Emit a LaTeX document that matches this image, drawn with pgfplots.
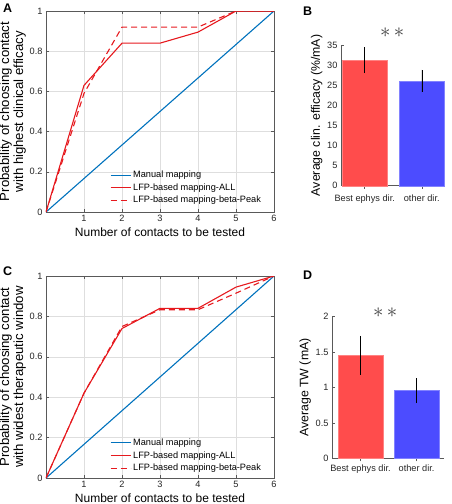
\documentclass[border=0pt]{standalone}
\usepackage{pgfplots}
\pgfplotsset{compat=1.18}
\usepackage{fontspec}
\setmainfont{Liberation Sans}
\definecolor{mblue}{rgb}{0,0.447,0.741}
\definecolor{mred}{RGB}{230,25,30}
\definecolor{bred}{RGB}{255,76,76}
\definecolor{bblue}{RGB}{76,76,255}
\definecolor{frm}{gray}{0.35}
\pgfplotsset{
  common/.style={
    scale only axis,
    /pgf/number format/assume math mode=true,
    axis line style={frm, line width=0.5pt},
    tick style={frm, line width=0.5pt},
    tick align=inside,
    major tick length=3pt,
    ticklabel style={font=\fontsize{9.2}{10}\selectfont, text=black!85},
  },
  lineax/.style={
    common,
    width=228pt,
    xmin=0, xmax=6, ymin=0, ymax=1,
    xtick={1,2,3,4,5,6},
    ytick={0,0.2,0.4,0.6,0.8,1},
    grid=major,
    grid style={black!13, line width=0.4pt},
    xlabel style={font=\fontsize{12}{13}\selectfont, yshift=1pt},
    ylabel style={font=\fontsize{13.2}{14}\selectfont, align=center, yshift=-3pt},
    legend style={draw=none, fill=none, anchor=north west, inner sep=0pt,
      font=\fontsize{9.2}{11}\selectfont, row sep=0.5pt},
    legend cell align=left,
  },
  barax/.style={
    common,
    axis lines*=left,
    ybar,
    bar width=0.8,
    xtick={1,2},
    xticklabels={Best ephys dir., other dir.},
    xticklabel style={font=\fontsize{9.2}{10}\selectfont},
    ylabel style={font=\fontsize{12.3}{13}\selectfont, yshift=-2pt},
    clip=false,
  },
}
\begin{document}
\begin{tikzpicture}
\useasboundingbox (0,0) rectangle (451pt,-504pt);
% Panel A
\begin{axis}[lineax, height=201pt, at={(46pt,-212pt)}, anchor=south west,
  xlabel={Number of contacts to be tested},
  ylabel={Probability of choosing contact\\with highest clinical efficacy},
  legend style={at={(0.28,0.215)}},
  legend image code/.code={\draw[#1] (0pt,0pt) -- (20pt,0pt);}]
\addplot[mblue, line width=1.1pt] coordinates {(0,0) (6,1)};
\addplot[mred, line width=1.1pt] coordinates {(0,0) (1,0.63) (2,0.84) (3,0.84) (4,0.895) (5,1) (6,1)};
\addplot[mred, line width=1.1pt, dash pattern=on 6pt off 4pt] coordinates {(0,0) (1,0.59) (2,0.92) (3,0.92) (4,0.92) (5,1) (6,1)};
\legend{Manual mapping, LFP-based mapping-ALL, LFP-based mapping-beta-Peak}
\end{axis}
% Panel C
\begin{axis}[lineax, height=202pt, at={(46pt,-478pt)}, anchor=south west,
  xlabel={Number of contacts to be tested},
  ylabel={Probability of choosing contact\\with widest therapeutic window},
  legend style={at={(0.28,0.205)}},
  legend image code/.code={\draw[#1] (0pt,0pt) -- (20pt,0pt);}]
\addplot[mblue, line width=1.1pt] coordinates {(0,0) (6,1)};
\addplot[mred, line width=1.1pt] coordinates {(0,0) (1,0.42) (2,0.74) (3,0.84) (4,0.84) (5,0.945) (6,1)};
\addplot[mred, line width=1.1pt, dash pattern=on 6pt off 4pt] coordinates {(0,0) (1,0.42) (2,0.75) (3,0.833) (4,0.833) (5,0.915) (6,1)};
\legend{Manual mapping, LFP-based mapping-ALL, LFP-based mapping-beta-Peak}
\end{axis}
% Panel B
\begin{axis}[barax, width=103pt, height=140.7pt, at={(341pt,-185.7pt)}, anchor=south west,
  xmin=0.584, xmax=2.39, ymin=0, ymax=35, ytick={0,5,10,15,20,25,30,35},
  xticklabel style={yshift=-3pt},
  ylabel={Average clin. efficacy (\%/mA)}]
\addplot[fill=bred, draw=bred!70!white, line width=0.3pt, bar shift=0pt,
  error bars/.cd, y dir=both, y explicit, error mark=none,
  error bar style={black, line width=0.5pt}]
  coordinates {(1,31.2) += (0,3.3) -= (0,3.2)};
\addplot[fill=bblue, draw=bblue!70!white, line width=0.3pt, bar shift=0pt,
  error bars/.cd, y dir=both, y explicit, error mark=none,
  error bar style={black, line width=0.5pt}]
  coordinates {(2,26) += (0,2.8) -= (0,2.7)};
\node[font=\fontsize{20}{20}\selectfont, text=black!75] at (axis cs:1.48,38.0) {$\ast\,\ast$};
\end{axis}
% Panel D
\begin{axis}[barax, width=112pt, height=141.6pt, at={(332pt,-458.3pt)}, anchor=south west,
  xmin=0.491, xmax=2.49, ymin=0, ymax=2, ytick={0,0.5,1,1.5,2},
  ylabel={Average TW (mA)}]
\addplot[fill=bred, draw=bred!70!white, line width=0.3pt, bar shift=0pt,
  error bars/.cd, y dir=both, y explicit, error mark=none,
  error bar style={black, line width=0.5pt}]
  coordinates {(1,1.45) += (0,0.28) -= (0,0.27)};
\addplot[fill=bblue, draw=bblue!70!white, line width=0.3pt, bar shift=0pt,
  error bars/.cd, y dir=both, y explicit, error mark=none,
  error bar style={black, line width=0.5pt}]
  coordinates {(2,0.96) += (0,0.17) -= (0,0.18)};
\node[font=\fontsize{20}{20}\selectfont, text=black!75] at (axis cs:1.44,2.06) {$\ast\,\ast$};
\end{axis}
% Panel letters
\node[anchor=north west, inner sep=0pt, font=\bfseries\fontsize{12.5}{13}\selectfont] at (3pt,-4pt) {A};
\node[anchor=north west, inner sep=0pt, font=\bfseries\fontsize{12.5}{13}\selectfont] at (303pt,-7pt) {B};
\node[anchor=north west, inner sep=0pt, font=\bfseries\fontsize{12.5}{13}\selectfont] at (3pt,-267pt) {C};
\node[anchor=north west, inner sep=0pt, font=\bfseries\fontsize{12.5}{13}\selectfont] at (303pt,-271pt) {D};
\end{tikzpicture}
\end{document}
